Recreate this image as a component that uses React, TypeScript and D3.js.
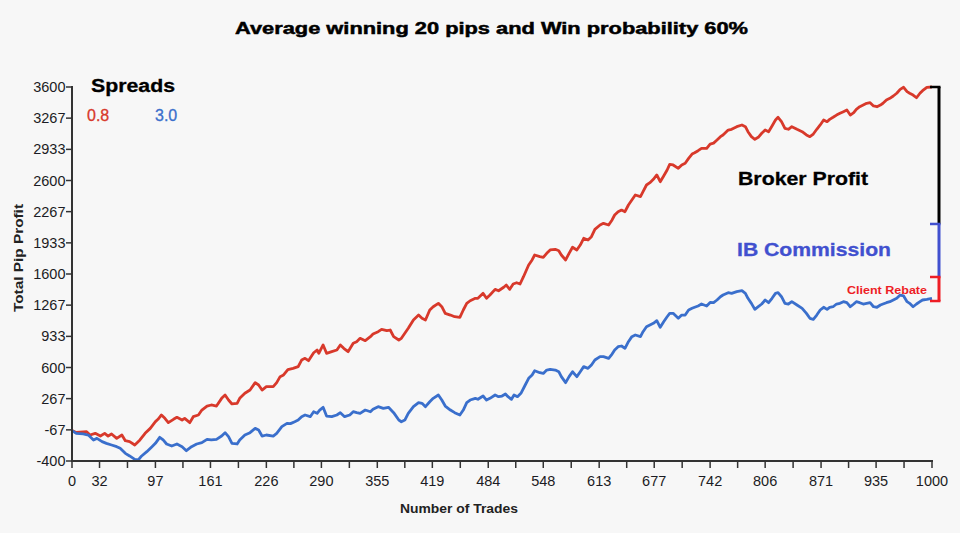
import React from "react";
import * as d3 from "d3";

const W = 960;
const H = 533;

const chartTitle = "Average winning 20 pips and Win probability 60%";
const yAxisTitle = "Total Pip Profit";
const xAxisTitle = "Number of Trades";

const yTickLabels = [-400, -67, 267, 600, 933, 1267, 1600, 1933, 2267, 2600, 2933, 3267, 3600];
const xTickLabels = [0, 32, 97, 161, 226, 290, 355, 419, 484, 548, 613, 677, 742, 806, 871, 935, 1000];

const spreadNames = ["0.8", "3.0"];
const spreadColors = ["#d8392b", "#3a6fcc"];

// Spread 0.8 (red): [trade number, total pip profit]
const spread08: [number, number][] = [
  [0, -75], [5, -95], [17, -87], [21, -122], [27, -104], [33, -133], [38, -104], [42, -133], [46, -111], [52, -158],
  [58, -122], [62, -183], [67, -193], [73, -229], [79, -175], [85, -104], [91, -51], [97, 21], [100, 46], [104, 92],
  [108, 56], [112, 10], [118, 46], [122, 67], [128, 38], [131, 56], [137, 10], [141, 74], [147, 92], [151, 145],
  [157, 188], [162, 199], [168, 188], [174, 270], [178, 306], [182, 252], [186, 210], [192, 217], [195, 270], [201, 324],
  [207, 359], [213, 438], [217, 413], [221, 359], [226, 395], [234, 395], [238, 438], [242, 502], [246, 520], [251, 578],
  [257, 591], [263, 609], [267, 680], [271, 698], [275, 673], [281, 758], [285, 787], [287, 752], [292, 841], [296, 752],
  [302, 769], [308, 787], [312, 841], [316, 805], [321, 769], [327, 859], [331, 876], [335, 912], [341, 887], [347, 930],
  [350, 958], [356, 983], [360, 1008], [366, 994], [370, 1001], [374, 930], [380, 894], [383, 912], [387, 966], [391, 1019],
  [397, 1108], [403, 1161], [407, 1126], [411, 1108], [416, 1215], [420, 1250], [426, 1286], [430, 1250], [434, 1179], [440, 1161],
  [445, 1143], [451, 1137], [455, 1215], [459, 1286], [463, 1314], [469, 1340], [472, 1340], [478, 1393], [482, 1340], [486, 1375],
  [492, 1436], [496, 1421], [502, 1458], [505, 1482], [509, 1436], [513, 1493], [517, 1507], [521, 1493], [525, 1571], [531, 1696],
  [535, 1750], [538, 1803], [544, 1785], [548, 1778], [552, 1821], [556, 1857], [562, 1864], [566, 1849], [569, 1803], [574, 1750],
  [578, 1821], [582, 1886], [587, 1857], [591, 1910], [595, 1982], [600, 1964], [604, 1999], [608, 2078], [614, 2124], [618, 2142],
  [624, 2124], [628, 2178], [631, 2231], [635, 2266], [639, 2284], [643, 2266], [647, 2338], [651, 2391], [655, 2445], [661, 2427],
  [664, 2480], [668, 2552], [672, 2577], [676, 2613], [680, 2659], [684, 2587], [688, 2648], [692, 2712], [695, 2773], [699, 2766],
  [705, 2730], [709, 2766], [713, 2784], [717, 2837], [721, 2883], [724, 2897], [728, 2919], [732, 2944], [738, 2944], [742, 2990],
  [746, 3000], [750, 3033], [754, 3069], [757, 3087], [763, 3140], [767, 3148], [773, 3176], [779, 3194], [783, 3176], [786, 3122],
  [790, 3069], [794, 3041], [798, 3062], [802, 3105], [806, 3140], [810, 3122], [814, 3183], [818, 3247], [821, 3276], [825, 3229],
  [829, 3158], [833, 3148], [837, 3176], [843, 3148], [849, 3122], [854, 3087], [858, 3069], [862, 3097], [866, 3148], [870, 3194],
  [874, 3247], [878, 3229], [881, 3254], [885, 3276], [889, 3300], [893, 3319], [897, 3336], [901, 3354], [905, 3300], [909, 3325],
  [912, 3361], [916, 3389], [920, 3407], [924, 3426], [928, 3432], [932, 3397], [936, 3389], [940, 3407], [943, 3426], [947, 3461],
  [951, 3479], [955, 3504], [959, 3533], [963, 3575], [967, 3597], [971, 3550], [974, 3533], [978, 3514], [982, 3485], [986, 3533],
  [989, 3561], [994, 3597], [1000, 3600],
];

// Spread 3.0 (blue): [trade number, total pip profit]
const spread30: [number, number][] = [
  [0, -75], [5, -104], [13, -111], [19, -122], [25, -175], [29, -158], [35, -193], [40, -211], [46, -229], [52, -247],
  [56, -264], [62, -318], [67, -346], [73, -382], [77, -389], [81, -346], [87, -300], [93, -247], [97, -211], [102, -147],
  [106, -175], [110, -218], [116, -240], [122, -218], [128, -247], [133, -290], [139, -247], [145, -218], [151, -204], [157, -168],
  [162, -175], [168, -168], [174, -133], [178, -97], [182, -140], [186, -211], [192, -218], [195, -175], [201, -122], [207, -97],
  [213, -51], [217, -68], [221, -133], [226, -122], [234, -133], [238, -104], [244, -33], [250, 3], [254, 0], [259, 20],
  [263, 38], [267, 74], [271, 92], [277, 74], [281, 127], [285, 110], [288, 145], [292, 174], [296, 81], [302, 74],
  [308, 92], [312, 117], [317, 74], [323, 92], [327, 127], [331, 117], [335, 110], [341, 145], [347, 127], [350, 153],
  [356, 181], [362, 163], [368, 174], [374, 117], [380, 38], [383, 20], [387, 38], [391, 110], [397, 181], [403, 224],
  [407, 217], [411, 181], [416, 234], [420, 270], [426, 306], [430, 252], [434, 188], [440, 145], [445, 117], [451, 92],
  [455, 145], [459, 224], [463, 252], [469, 270], [472, 260], [478, 295], [482, 252], [486, 270], [492, 306], [496, 288],
  [500, 295], [504, 317], [507, 288], [511, 260], [514, 306], [518, 288], [522, 324], [527, 413], [531, 484], [535, 520],
  [538, 566], [544, 544], [548, 537], [552, 573], [556, 580], [562, 573], [566, 555], [569, 502], [574, 438], [578, 502],
  [582, 555], [587, 502], [591, 555], [595, 609], [600, 591], [604, 627], [608, 680], [614, 716], [618, 716], [624, 698],
  [628, 744], [631, 787], [635, 822], [639, 830], [643, 805], [647, 876], [651, 930], [655, 948], [661, 930], [664, 983],
  [668, 1036], [672, 1055], [676, 1073], [680, 1101], [684, 1030], [688, 1090], [692, 1143], [695, 1179], [699, 1179], [705, 1126],
  [709, 1161], [713, 1161], [717, 1215], [721, 1233], [724, 1244], [728, 1258], [732, 1279], [738, 1258], [742, 1295], [746, 1293],
  [750, 1322], [754, 1357], [757, 1375], [763, 1400], [767, 1393], [773, 1411], [779, 1421], [783, 1393], [786, 1340], [790, 1286],
  [794, 1222], [798, 1250], [802, 1279], [806, 1322], [810, 1293], [814, 1340], [818, 1393], [821, 1400], [825, 1357], [829, 1286],
  [833, 1279], [837, 1304], [843, 1268], [849, 1233], [854, 1179], [858, 1126], [862, 1115], [866, 1161], [870, 1215], [874, 1244],
  [878, 1222], [881, 1244], [885, 1250], [889, 1279], [893, 1286], [897, 1304], [901, 1293], [905, 1250], [909, 1279], [912, 1304],
  [916, 1293], [920, 1279], [924, 1286], [928, 1293], [932, 1250], [936, 1244], [940, 1268], [943, 1279], [947, 1293], [951, 1304],
  [955, 1322], [959, 1340], [963, 1375], [967, 1365], [971, 1304], [974, 1286], [978, 1250], [982, 1279], [986, 1304], [989, 1322],
  [994, 1329], [1000, 1340],
];

// Annotation bracket boundaries (pip profit values at the right edge)
const bracketLevels = [3600, 2135, 1568, 1311];
const bracketNames = ["Broker Profit", "IB Commission", "Client Rebate"];
const bracketColors = ["#000000", "#4150cf", "#ee1d25"];

const FONT = "'Liberation Sans', Arial, Helvetica, sans-serif";

export default function App() {
  const x = d3.scaleLinear().domain([0, 1000]).range([72, 932]);
  const y = d3.scaleLinear().domain([-400, 3600]).range([461, 87]);

  const line = d3
    .line<[number, number]>()
    .x((d) => x(d[0]))
    .y((d) => y(d[1]))
    .curve(d3.curveLinear);

  const minorTicks = xTickLabels.slice(1, -1).map((v, i) => (v + xTickLabels[i + 2]) / 2);

  const bx = 939;
  const axisColor = "#333";
  const textColor = "#1c1c24";

  return (
    <svg
      width={W}
      height={H}
      style={{ position: "fixed", left: 0, top: 0, background: "#f7f7f7" }}
      fontFamily={FONT}
    >
      <rect x={0} y={0} width={W} height={H} fill="#f7f7f7" />

      {/* Title */}
      <text
        x={235}
        y={34}
        fontSize={17}
        fontWeight="bold"
        fill="#000"
        stroke="#000"
        strokeWidth={0.5}
        textLength={513}
        lengthAdjust="spacingAndGlyphs"
      >
        {chartTitle}
      </text>

      {/* Lines */}
      <path d={line(spread08) || ""} fill="none" stroke={spreadColors[0]} strokeWidth={2.8} strokeLinejoin="round" />
      <path d={line(spread30) || ""} fill="none" stroke={spreadColors[1]} strokeWidth={2.8} strokeLinejoin="round" />

      {/* Y axis */}
      <line x1={x(0)} x2={x(0)} y1={y(3600) - 1} y2={y(-400) + 1} stroke={axisColor} strokeWidth={2} />
      {yTickLabels.map((v) => (
        <g key={"y" + v}>
          <line x1={x(0) - 6} x2={x(0)} y1={y(v)} y2={y(v)} stroke={axisColor} strokeWidth={1.5} />
          <text x={x(0) - 6.5} y={y(v) + 5} fontSize={14.5} textAnchor="end" fill={textColor}>
            {v}
          </text>
        </g>
      ))}

      {/* X axis */}
      <line x1={x(0) - 1} x2={x(1000) + 1} y1={y(-400)} y2={y(-400)} stroke={axisColor} strokeWidth={2} />
      {xTickLabels.map((v) => (
        <g key={"x" + v}>
          <line x1={x(v)} x2={x(v)} y1={y(-400)} y2={y(-400) + 7} stroke={axisColor} strokeWidth={1.5} />
          <text x={x(v)} y={486} fontSize={14.5} textAnchor="middle" fill={textColor}>
            {v}
          </text>
        </g>
      ))}
      {minorTicks.map((v) => (
        <line key={"m" + v} x1={x(v)} x2={x(v)} y1={y(-400)} y2={y(-400) + 7} stroke={axisColor} strokeWidth={1.5} />
      ))}

      {/* Axis titles */}
      <text
        transform={`translate(23, 258) rotate(-90)`}
        fontSize={12.5}
        fontWeight="bold"
        textAnchor="middle"
        fill="#222"
        textLength={108}
        lengthAdjust="spacingAndGlyphs"
      >
        {yAxisTitle}
      </text>
      <text
        x={459}
        y={513}
        fontSize={12.5}
        fontWeight="bold"
        textAnchor="middle"
        fill="#222"
        textLength={118}
        lengthAdjust="spacingAndGlyphs"
      >
        {xAxisTitle}
      </text>

      {/* Legend */}
      <text x={91} y={92} fontSize={18} fontWeight="bold" fill="#000" stroke="#000" strokeWidth={0.3} textLength={84} lengthAdjust="spacingAndGlyphs">
        Spreads
      </text>
      <text x={87} y={121} fontSize={16} fill={spreadColors[0]} fontWeight={500} stroke={spreadColors[0]} strokeWidth={0.3}>
        {spreadNames[0]}
      </text>
      <text x={155} y={121} fontSize={16} fill={spreadColors[1]} fontWeight={500} stroke={spreadColors[1]} strokeWidth={0.3}>
        {spreadNames[1]}
      </text>

      {/* Right-side brackets */}
      {bracketNames.map((name, i) => {
        const y1 = y(bracketLevels[i]);
        const y2 = y(bracketLevels[i + 1]);
        const c = bracketColors[i];
        return (
          <g key={name}>
            <line x1={bx} x2={bx} y1={y1} y2={y2} stroke={c} strokeWidth={3} />
            <line x1={bx - 9} x2={bx + 1.5} y1={y1} y2={y1} stroke={c} strokeWidth={2.5} />
            {i === bracketNames.length - 1 && (
              <line x1={bx - 9} x2={bx + 1.5} y1={y2} y2={y2} stroke={c} strokeWidth={2.5} />
            )}
          </g>
        );
      })}
      <text x={738} y={185} fontSize={18.5} fontWeight="bold" fill={bracketColors[0]} stroke={bracketColors[0]} strokeWidth={0.3} textLength={130} lengthAdjust="spacingAndGlyphs">
        {bracketNames[0]}
      </text>
      <text x={737} y={256} fontSize={18.5} fontWeight="bold" fill={bracketColors[1]} stroke={bracketColors[1]} strokeWidth={0.3} textLength={154} lengthAdjust="spacingAndGlyphs">
        {bracketNames[1]}
      </text>
      <text x={847} y={294} fontSize={11} fontWeight="bold" fill={bracketColors[2]} textLength={80} lengthAdjust="spacingAndGlyphs">
        {bracketNames[2]}
      </text>
    </svg>
  );
}
